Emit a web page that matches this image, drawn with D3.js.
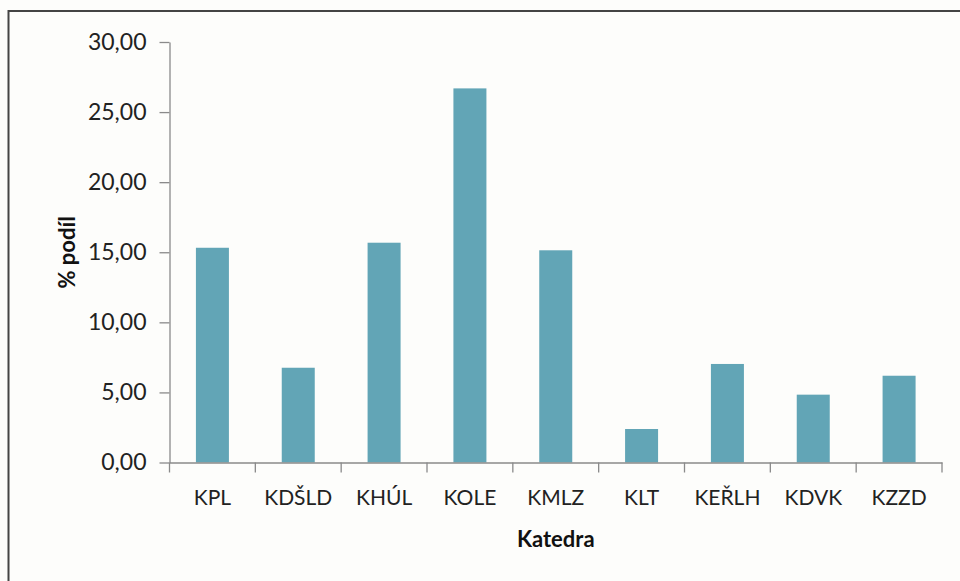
<!DOCTYPE html>
<html>
<head>
<meta charset="utf-8">
<script src="https://cdn.jsdelivr.net/npm/d3@7"></script>
<style>
body { margin:0; background:#fdfdfb; }
svg { display:block; }
</style>
</head>
<body>
<div id="figure"></div>
<script>
var categories = ["KPL","KDŠLD","KHÚL","KOLE","KMLZ","KLT","KEŘLH","KDVK","KZZD"];
var values = [15.32, 6.76, 15.68, 26.69, 15.14, 2.39, 7.03, 4.84, 6.19];
var yTicks = [0, 5, 10, 15, 20, 25, 30];

var W = 960, H = 581;
var plotL = 169.5, plotR = 942, plotT = 42, plotB = 462.5;

var svg = d3.select("#figure").append("svg")
	.attr("width", W).attr("height", H);

svg.append("rect").attr("width", W).attr("height", H).attr("fill", "#fdfdfb");

// frame (only top and left visible)
svg.append("path")
	.attr("d", "M8.5," + H + "V11H" + W)
	.attr("fill", "none")
	.attr("stroke", "#444")
	.attr("stroke-width", 2);

var x = d3.scaleBand().domain(categories).range([plotL, plotR]).paddingInner(0).paddingOuter(0);
var y = d3.scaleLinear().domain([0, 30]).range([plotB, plotT]);

var bw = 33;

svg.selectAll("rect.bar")
	.data(values)
	.enter()
	.append("rect")
	.attr("class", "bar")
	.attr("x", function(d,i) { return x(categories[i]) + x.bandwidth()/2 - bw/2; })
	.attr("y", function(d) { return y(d); })
	.attr("width", bw)
	.attr("height", function(d) { return y(0) - y(d); })
	.attr("fill", "#62a5b6");

// y axis
var yAxis = svg.append("g")
	.attr("transform", "translate(" + plotL + ",0)")
	.call(d3.axisLeft(y).tickValues(yTicks).tickSize(10).tickSizeOuter(0).tickPadding(13)
		.tickFormat(function(d) { return d3.format(".2f")(d).replace(".", ","); }));
yAxis.select(".domain").attr("stroke", "#8a8a8a").attr("stroke-width", 1.3);
yAxis.selectAll(".tick line").attr("stroke", "#8a8a8a").attr("stroke-width", 1.3);
yAxis.selectAll(".tick text")
	.attr("font-family", "Lato, sans-serif")
	.attr("font-size", "23px")
	.attr("fill", "#222");

// x axis
var xAxis = svg.append("g")
	.attr("transform", "translate(0," + plotB + ")")
	.call(d3.axisBottom(x).tickSize(0).tickPadding(28));
xAxis.select(".domain").attr("stroke", "#8a8a8a").attr("stroke-width", 1.3);
xAxis.selectAll(".tick text")
	.attr("font-family", "Lato, sans-serif")
	.attr("font-size", "21px")
	.attr("fill", "#222");

// category separators
var seps = categories.map(function(c) { return x(c); }).concat([plotR]);
xAxis.selectAll("line.sep")
	.data(seps)
	.enter()
	.append("line")
	.attr("class", "sep")
	.attr("x1", function(d) { return d; })
	.attr("x2", function(d) { return d; })
	.attr("y1", 0)
	.attr("y2", 10)
	.attr("stroke", "#8a8a8a")
	.attr("stroke-width", 1.3);

// axis titles
svg.append("text")
	.text("Katedra")
	.attr("x", (plotL + plotR) / 2)
	.attr("y", 547)
	.attr("text-anchor", "middle")
	.attr("font-family", "Lato, sans-serif")
	.attr("font-weight", "bold")
	.attr("font-size", "22px")
	.attr("fill", "#111");

svg.append("text")
	.text("% podíl")
	.attr("transform", "translate(75," + ((plotT + plotB) / 2) + ")rotate(-90)")
	.attr("text-anchor", "middle")
	.attr("font-family", "Lato, sans-serif")
	.attr("font-weight", "bold")
	.attr("font-size", "22px")
	.attr("fill", "#111");
</script>
</body>
</html>
